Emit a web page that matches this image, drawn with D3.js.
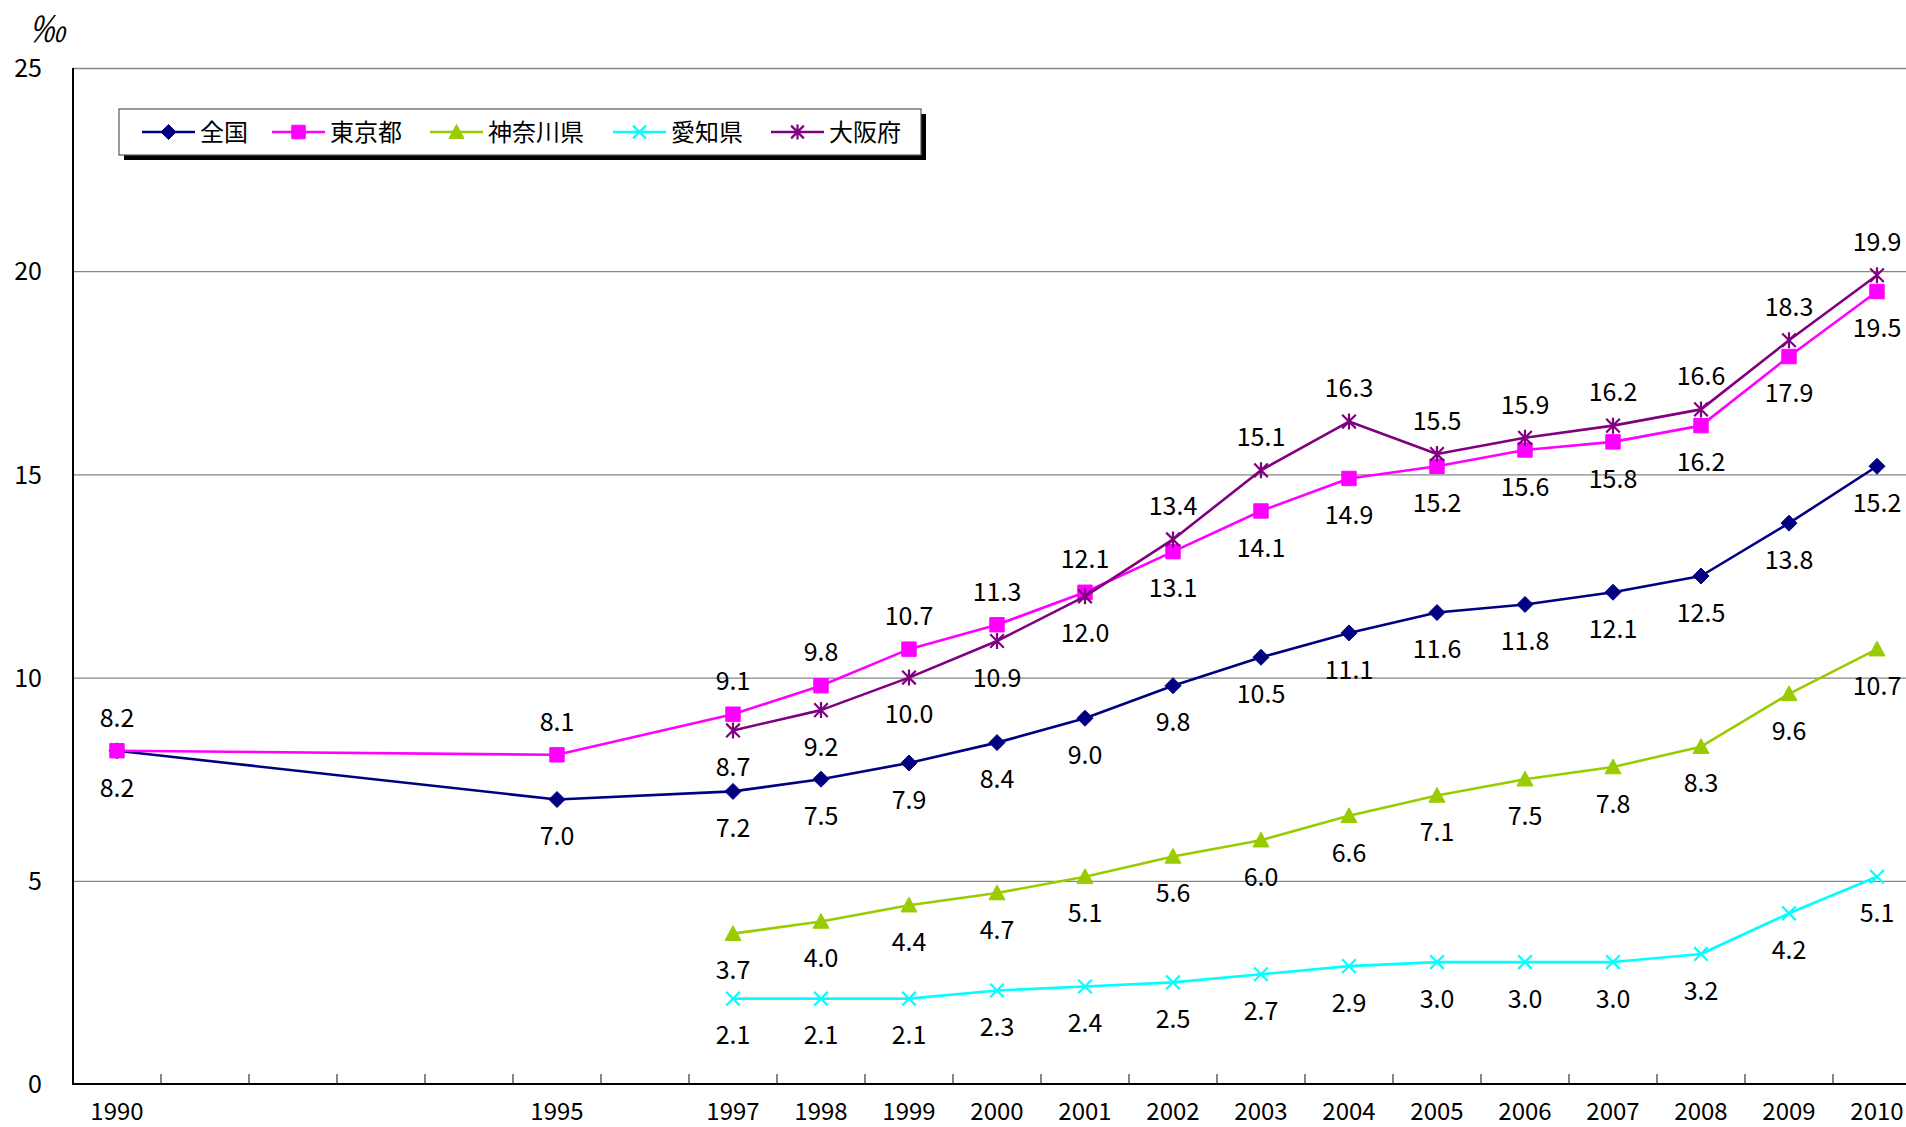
<!DOCTYPE html>
<html>
<head>
<meta charset="utf-8">
<script src="https://cdn.jsdelivr.net/npm/d3@7"></script>
<style>
  html, body { margin: 0; padding: 0; background: #fff; }
  svg { display: block; }
  text { font-family: "Noto Sans CJK JP", "Noto Sans", sans-serif; fill: #000; }
</style>
</head>
<body>
<svg id="chart" width="1906" height="1127"></svg>
<script>
// ---------- data ----------
const years = [1990,1991,1992,1993,1994,1995,1996,1997,1998,1999,2000,2001,2002,2003,2004,2005,2006,2007,2008,2009,2010];
const xTickLabels = ["1990","","","","","1995","","1997","1998","1999","2000","2001","2002","2003","2004","2005","2006","2007","2008","2009","2010"];
const yTicks = [0,5,10,15,20,25];
const seriesNames = ["全国","東京都","神奈川県","愛知県","大阪府"];
const national = [8.2,null,null,null,null,7.0,null,7.2,7.5,7.9,8.4,9.0,9.8,10.5,11.1,11.6,11.8,12.1,12.5,13.8,15.2];
const tokyo    = [8.2,null,null,null,null,8.1,null,9.1,9.8,10.7,11.3,12.1,13.1,14.1,14.9,15.2,15.6,15.8,16.2,17.9,19.5];
const kanagawa = [null,null,null,null,null,null,null,3.7,4.0,4.4,4.7,5.1,5.6,6.0,6.6,7.1,7.5,7.8,8.3,9.6,10.7];
const aichi    = [null,null,null,null,null,null,null,2.1,2.1,2.1,2.3,2.4,2.5,2.7,2.9,3.0,3.0,3.0,3.2,4.2,5.1];
const osaka    = [null,null,null,null,null,null,null,8.7,9.2,10.0,10.9,12.0,13.4,15.1,16.3,15.5,15.9,16.2,16.6,18.3,19.9];
const unitLabel = "‰";

// ---------- styles ----------
const colors = ["#000080","#FF00FF","#99CC00","#00FFFF","#800080"];
const markers = ["diamond","square","triangle","x","asterisk"];
const seriesValues = [national, tokyo, kanagawa, aichi, osaka];

const svg = d3.select("#chart");
const plotLeft = 73, plotTop = 68, plotBottom = 1084, band = 88;
const x = d3.scaleBand().domain(years).range([plotLeft, plotLeft + band * years.length]).padding(0);
const y = d3.scaleLinear().domain([0, 25]).range([plotBottom, plotTop]);
const plotRight = plotLeft + band * years.length;

// gridlines
svg.append("g")
  .attr("transform", `translate(${plotLeft},0)`)
  .call(d3.axisLeft(y).tickValues(yTicks.filter(v => v > 0)).tickSize(-(plotRight - plotLeft)).tickFormat(""))
  .call(g => g.select(".domain").remove())
  .call(g => g.selectAll("line").attr("stroke", "#868686").attr("stroke-width", 1.3));

// y axis labels
svg.append("g")
  .attr("transform", `translate(${plotLeft},0)`)
  .call(d3.axisLeft(y).tickValues(yTicks).tickSize(0).tickPadding(31).tickFormat(d3.format("d")))
  .call(g => g.select(".domain").remove())
  .call(g => g.selectAll("text").attr("font-size", 25).attr("font-family", "Noto Sans CJK JP").attr("fill", "#000").attr("dy", "0.35em"));

// x tick marks at category boundaries (inside)
const boundaries = years.slice(1).map(yr => x(yr));
svg.append("g").selectAll("line").data(boundaries).join("line")
  .attr("x1", d => d).attr("x2", d => d)
  .attr("y1", plotBottom).attr("y2", plotBottom - 10)
  .attr("stroke", "#444").attr("stroke-width", 1.3);

// x axis labels
svg.append("g")
  .attr("transform", `translate(0,${plotBottom})`)
  .call(d3.axisBottom(x).tickSize(0).tickPadding(19).tickFormat((d, i) => xTickLabels[i]))
  .call(g => g.select(".domain").remove())
  .call(g => g.selectAll("text").attr("font-size", 24).attr("font-family", "Noto Sans CJK JP").attr("fill", "#000").attr("dy", "0.71em"));

// axis lines
svg.append("line").attr("x1", plotLeft).attr("x2", plotLeft).attr("y1", plotTop).attr("y2", plotBottom + 1)
  .attr("stroke", "#000").attr("stroke-width", 2);
svg.append("line").attr("x1", plotLeft - 1).attr("x2", plotRight).attr("y1", plotBottom).attr("y2", plotBottom)
  .attr("stroke", "#000").attr("stroke-width", 2.2);

// unit label
svg.append("text").attr("x", 47).attr("y", 29).attr("dy", "0.35em")
  .attr("text-anchor", "middle").attr("font-size", 36).attr("font-style", "italic").text(unitLabel);

// marker path generator
function markerPath(type, s) {
  const h = s / 2;
  switch (type) {
    case "diamond": return `M0,${-h}L${h},0L0,${h}L${-h},0Z`;
    case "square": { const q = h * 0.9; return `M${-q},${-q}H${q}V${q}H${-q}Z`; }
    case "triangle": return `M0,${-h}L${h},${h * 0.85}L${-h},${h * 0.85}Z`;
    case "x": { const q = h * 0.85; return `M${-q},${-q}L${q},${q}M${-q},${q}L${q},${-q}`; }
    case "asterisk": { const q = h * 0.85; return `M${-q},${-q}L${q},${q}M${-q},${q}L${q},${-q}M0,${-h}V${h}`; }
  }
}
function drawMarker(g, type, color, s) {
  const filled = (type === "diamond" || type === "square" || type === "triangle");
  g.append("path").attr("d", markerPath(type, s))
    .attr("fill", filled ? color : "none")
    .attr("stroke", color)
    .attr("stroke-width", filled ? 1 : 2.2);
}

// series lines + markers
const line = d3.line().defined(d => d.v != null).x(d => x(d.yr) + band / 2).y(d => y(d.v));
seriesValues.forEach((vals, si) => {
  const pts = years.map((yr, i) => ({ yr, v: vals[i] })).filter(d => d.v != null);
  const g = svg.append("g");
  g.append("path").datum(pts).attr("d", line)
    .attr("fill", "none").attr("stroke", colors[si]).attr("stroke-width", 2.6)
    .attr("stroke-linejoin", "round");
  pts.forEach(d => {
    const mg = g.append("g").attr("transform", `translate(${x(d.yr) + band / 2},${y(d.v)})`);
    drawMarker(mg, markers[si], colors[si], 16);
  });
});

// data labels
seriesValues.forEach((vals, si) => {
  years.forEach((yr, i) => {
    const v = vals[i];
    if (v == null) return;
    let above = false;
    if (si === 1) above = (osaka[i] == null) || v >= osaka[i];
    if (si === 4) above = (tokyo[i] == null) || v > tokyo[i];
    const cy = y(v) + (above ? -33 : 37);
    svg.append("text")
      .attr("x", x(yr) + band / 2).attr("y", cy).attr("dy", "0.35em")
      .attr("text-anchor", "middle").attr("font-size", 25)
      .text(d3.format(".1f")(v));
  });
});

// legend
const lg = svg.append("g");
lg.append("rect").attr("x", 124).attr("y", 114).attr("width", 802).attr("height", 46).attr("fill", "#000");
lg.append("rect").attr("x", 119).attr("y", 109).attr("width", 802).attr("height", 46)
  .attr("fill", "#fff").attr("stroke", "#555").attr("stroke-width", 1.2);
const legendLineX = [142, 272, 430, 613, 771];
const legendTextX = [200, 330, 488, 671, 829];
seriesNames.forEach((name, si) => {
  const ly = 132;
  lg.append("line").attr("x1", legendLineX[si]).attr("x2", legendLineX[si] + 53)
    .attr("y1", ly).attr("y2", ly).attr("stroke", colors[si]).attr("stroke-width", 2.6);
  const mg = lg.append("g").attr("transform", `translate(${legendLineX[si] + 26.5},${ly})`);
  drawMarker(mg, markers[si], colors[si], 15);
  lg.append("text").attr("x", legendTextX[si]).attr("y", ly).attr("dy", "0.36em")
    .attr("font-size", 24).text(name);
});
</script>
</body>
</html>
